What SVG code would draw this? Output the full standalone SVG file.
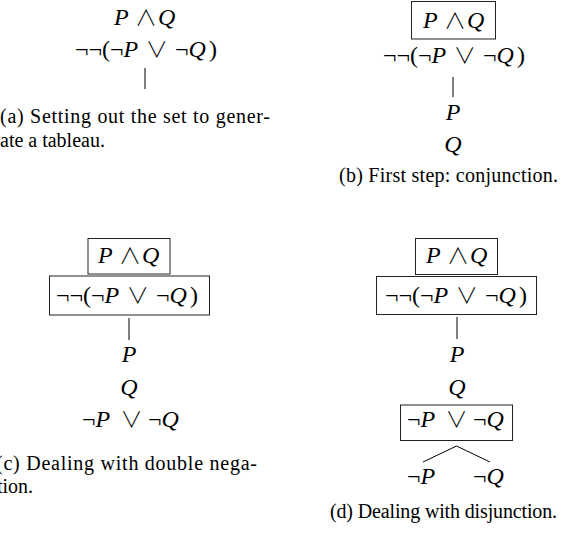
<svg xmlns="http://www.w3.org/2000/svg" width="577" height="536" viewBox="0 0 577 536">
<style>
.m{font-family:"Liberation Serif","DejaVu Serif",serif;font-size:24px;fill:#000}
.i{font-style:italic}
.o{font-family:"Noto Sans CJK JP","DejaVu Sans",sans-serif;font-weight:300;font-size:22px}
.c{font-family:"Liberation Serif","DejaVu Serif",serif;font-size:20px;fill:#000}
.box{fill:none;stroke:#222;stroke-width:1}
.ln{stroke:#000;stroke-width:1;fill:none}
</style>
<rect width="577" height="536" fill="#fff"/>
<!-- (a) -->
<g id="a-conj"><text class="m" y="25"><tspan class="i" x="114">P</tspan><tspan class="o" x="135">∧</tspan><tspan class="i" x="158">Q</tspan></text></g>
<g id="a-dneg"><text class="m" y="57"><tspan x="75">¬¬(¬</tspan><tspan class="i">P</tspan><tspan class="o" x="145.7">∨</tspan><tspan x="175">¬</tspan><tspan class="i">Q</tspan><tspan x="209">)</tspan></text></g>
<g id="a-caption"><text class="c" x="0" y="123" textLength="270" lengthAdjust="spacing">(a) Setting out the set to gener-</text><text class="c" x="0" y="147">ate a tableau.</text></g>
<!-- (b) -->
<g id="b-conj"><rect class="box" x="411.5" y="1.5" width="84" height="37.5"/><text class="m" y="27.5"><tspan class="i" x="423">P</tspan><tspan class="o" x="444">∧</tspan><tspan class="i" x="467">Q</tspan></text></g>
<g id="b-dneg"><text class="m" y="62.5"><tspan x="383">¬¬(¬</tspan><tspan class="i">P</tspan><tspan class="o" x="453.7">∨</tspan><tspan x="483">¬</tspan><tspan class="i">Q</tspan><tspan x="517">)</tspan></text></g>
<g id="b-p"><text class="m i" x="453" y="120" text-anchor="middle">P</text></g>
<g id="b-q"><text class="m i" x="453" y="152" text-anchor="middle">Q</text></g>
<g id="b-caption"><text class="c" x="339" y="182" textLength="219" lengthAdjust="spacing">(b) First step: conjunction.</text></g>
<!-- (c) -->
<g id="c-conj"><rect class="box" x="88" y="238.5" width="82" height="35.5"/><text class="m" y="263"><tspan class="i" x="98">P</tspan><tspan class="o" x="119">∧</tspan><tspan class="i" x="142">Q</tspan></text></g>
<g id="c-dneg"><rect class="box" x="49.5" y="276" width="160" height="39"/><text class="m" y="303"><tspan x="56">¬¬(¬</tspan><tspan class="i">P</tspan><tspan class="o" x="126.7">∨</tspan><tspan x="156">¬</tspan><tspan class="i">Q</tspan><tspan x="190">)</tspan></text></g>
<g id="c-p"><text class="m i" x="129" y="362" text-anchor="middle">P</text></g>
<g id="c-q"><text class="m i" x="129" y="395" text-anchor="middle">Q</text></g>
<g id="c-disj"><text class="m" y="427"><tspan x="82">¬</tspan><tspan class="i">P</tspan><tspan class="o" x="120.5">∨</tspan><tspan x="148">¬</tspan><tspan class="i">Q</tspan></text></g>
<g id="c-caption"><text class="c" x="-4" y="470" textLength="261" lengthAdjust="spacing">(c) Dealing with double nega-</text><text class="c" x="-3" y="493">tion.</text></g>
<!-- (d) -->
<g id="d-conj"><rect class="box" x="415.5" y="238.5" width="82" height="36"/><text class="m" y="263"><tspan class="i" x="426">P</tspan><tspan class="o" x="447">∧</tspan><tspan class="i" x="470">Q</tspan></text></g>
<g id="d-dneg"><rect class="box" x="376.5" y="276.5" width="160" height="38"/><text class="m" y="303"><tspan x="385">¬¬(¬</tspan><tspan class="i">P</tspan><tspan class="o" x="455.7">∨</tspan><tspan x="485">¬</tspan><tspan class="i">Q</tspan><tspan x="519">)</tspan></text></g>
<g id="d-p"><text class="m i" x="457" y="362" text-anchor="middle">P</text></g>
<g id="d-q"><text class="m i" x="457" y="395" text-anchor="middle">Q</text></g>
<g id="d-disj"><rect class="box" x="400.5" y="405" width="112" height="35.5"/><text class="m" y="427"><tspan x="407">¬</tspan><tspan class="i">P</tspan><tspan class="o" x="445.5">∨</tspan><tspan x="473">¬</tspan><tspan class="i">Q</tspan></text></g>
<g id="d-np"><text class="m" y="484"><tspan x="407">¬</tspan><tspan class="i">P</tspan></text></g>
<g id="d-nq"><text class="m" y="484"><tspan x="473">¬</tspan><tspan class="i">Q</tspan></text></g>
<g id="d-caption"><text class="c" x="330" y="518" textLength="227" lengthAdjust="spacing">(d) Dealing with disjunction.</text></g>
<!-- connectors -->
<g id="connectors">
<line class="ln" x1="145" y1="68" x2="145" y2="89"/>
<line class="ln" x1="453" y1="77" x2="453" y2="97"/>
<line class="ln" x1="129" y1="318" x2="129" y2="340"/>
<line class="ln" x1="457" y1="317" x2="457" y2="339"/>
<line class="ln" x1="456.5" y1="446" x2="423" y2="462"/>
<line class="ln" x1="456.5" y1="446" x2="490" y2="462"/>
</g>
</svg>
